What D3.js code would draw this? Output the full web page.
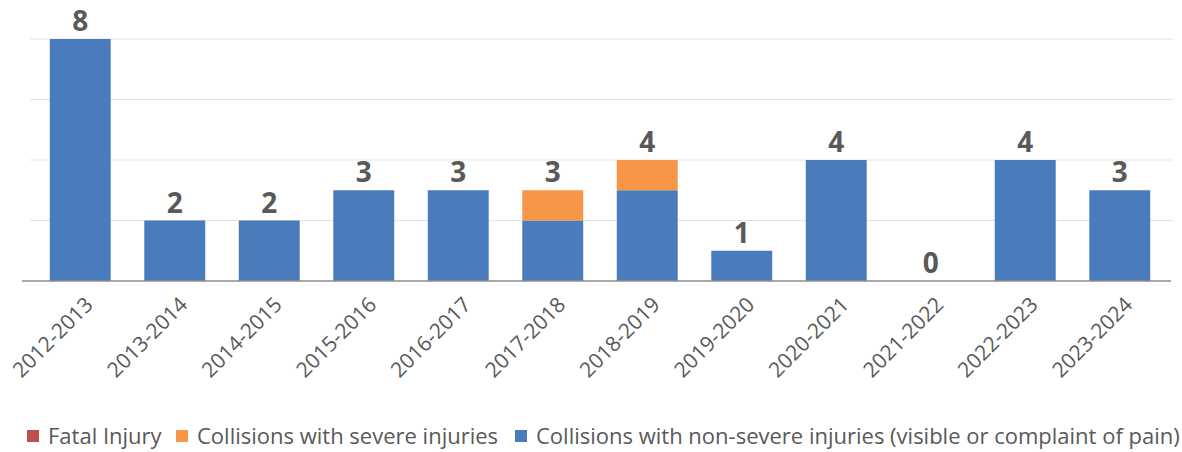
<!DOCTYPE html>
<html>
<head>
<meta charset="utf-8">
<script src="https://cdn.jsdelivr.net/npm/d3@7"></script>
<style>
  body { margin: 0; background: #fff; }
  text { font-family: "Open Sans", sans-serif; }
</style>
</head>
<body>
<div id="chart"></div>
<script>
// data
const YEARS = ["2012-2013", "2013-2014", "2014-2015", "2015-2016", "2016-2017", "2017-2018",
               "2018-2019", "2019-2020", "2020-2021", "2021-2022", "2022-2023", "2023-2024"];
const NON_SEVERE = [8, 2, 2, 3, 3, 2, 3, 1, 4, 0, 4, 3];
const SEVERE = [0, 0, 0, 0, 0, 1, 1, 0, 0, 0, 0, 0];
const FATAL = [0, 0, 0, 0, 0, 0, 0, 0, 0, 0, 0, 0];
const SERIES = ["Fatal Injury", "Collisions with severe injuries",
                "Collisions with non-severe injuries (visible or complaint of pain)"];
const Y_TICKS = [0, 2, 4, 6, 8];

const WIDTH = 1182, HEIGHT = 452;
const COLORS = { nonSevere: "#4a7cbd", severe: "#f79646", fatal: "#c0504d" };
const GREY = "#595959";

const svg = d3.select("#chart").append("svg")
  .attr("width", WIDTH)
  .attr("height", HEIGHT);

const x = d3.scaleBand()
  .domain(YEARS)
  .range([33, 1167])
  .paddingInner(0.355)
  .paddingOuter(0.1775);

const y = d3.scaleLinear()
  .domain([0, 8])
  .range([281, 39]);

// gridlines
svg.append("g")
  .selectAll("line")
  .data(Y_TICKS.slice(1))
  .join("line")
  .attr("x1", 30).attr("x2", 1173)
  .attr("y1", d => y(d)).attr("y2", d => y(d))
  .attr("stroke", "#e3e3e3")
  .attr("stroke-width", 1.2);

// stacked data
const rows = YEARS.map((yr, i) => ({
  year: yr, nonSevere: NON_SEVERE[i], severe: SEVERE[i], fatal: FATAL[i]
}));
const stack = d3.stack().keys(["nonSevere", "severe", "fatal"])(rows);

svg.append("g")
  .selectAll("g")
  .data(stack)
  .join("g")
  .attr("fill", s => COLORS[s.key])
  .selectAll("rect")
  .data(s => s.filter(d => d[1] > d[0]))
  .join("rect")
  .attr("x", d => x(d.data.year))
  .attr("width", x.bandwidth())
  .attr("y", d => y(d[1]))
  .attr("height", d => y(d[0]) - y(d[1]));

// x axis line
svg.append("line")
  .attr("x1", 22).attr("x2", 1171)
  .attr("y1", y(0)).attr("y2", y(0))
  .attr("stroke", "#8c8c8c")
  .attr("stroke-width", 1.5);

// totals
svg.append("g")
  .selectAll("text")
  .data(rows)
  .join("text")
  .attr("x", d => x(d.year) + x.bandwidth() / 2)
  .attr("y", d => y(d.nonSevere + d.severe + d.fatal) - 8)
  .attr("text-anchor", "middle")
  .attr("fill", GREY)
  .attr("font-size", 28)
  .attr("font-weight", "bold")
  .text(d => d.nonSevere + d.severe + d.fatal);

// category labels
svg.append("g")
  .selectAll("text")
  .data(YEARS)
  .join("text")
  .attr("transform", d => `translate(${x(d) + x.bandwidth() / 2 + 14},${y(0) + 25}) rotate(-45)`)
  .attr("text-anchor", "end")
  .attr("fill", GREY)
  .attr("font-size", 21)
  .text(d => d);

// legend
const legend = svg.append("g").attr("transform", "translate(0,437)");
const legendX = [27, 176, 515];
const legendColors = [COLORS.fatal, COLORS.severe, COLORS.nonSevere];
const items = legend.selectAll("g")
  .data(SERIES)
  .join("g")
  .attr("transform", (d, i) => `translate(${legendX[i]},0)`);
items.append("rect")
  .attr("x", 0).attr("y", -7)
  .attr("width", 12).attr("height", 12)
  .attr("fill", (d, i) => legendColors[i]);
items.append("text")
  .attr("x", 21)
  .attr("y", 7)
  .attr("fill", GREY)
  .attr("font-size", 22)
  .text(d => d);
</script>
</body>
</html>
